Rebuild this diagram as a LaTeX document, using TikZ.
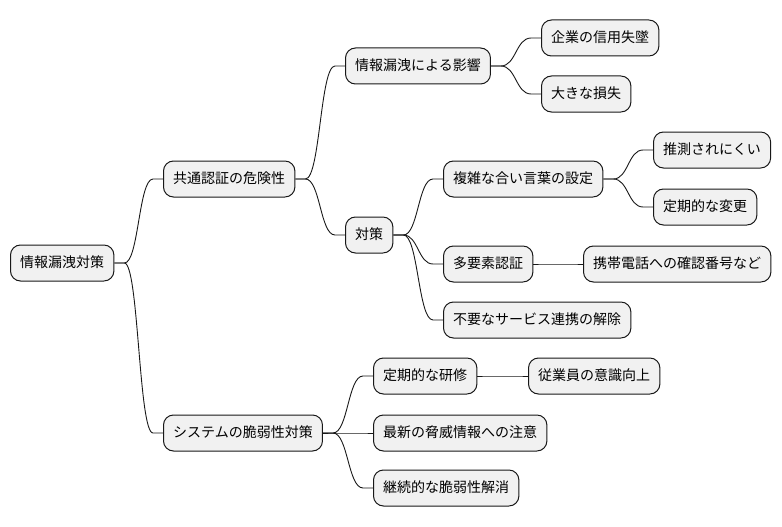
\documentclass[tikz,border=0pt]{standalone}
\usepackage{fontspec}
\newfontfamily\jp{Noto Sans CJK JP}
\usetikzlibrary{calc}
\definecolor{nodefill}{HTML}{F1F1F1}
\definecolor{edgecol}{HTML}{181818}
\tikzset{
  mm/.style={draw=edgecol, fill=nodefill, line width=1pt, rounded corners=10pt,
    anchor=west, minimum height=36pt, inner xsep=9.7pt, inner ysep=0pt,
    text height=11pt, text depth=1.5pt, font=\jp\fontsize{14}{16}\selectfont},
  branch/.style={to path={let \p1=(\tikztostart), \p2=(\tikztotarget) in
    -- (\x1+10pt,\y1) .. controls (\x1/2+\x2/2,\y1) and (\x1/2+\x2/2,\y2) .. (\x2-10pt,\y2) -- (\tikztotarget)}},
  conn/.style={draw=edgecol, line width=0.9pt}
}
\begin{document}
\begin{tikzpicture}[x=1pt,y=-1pt]
\useasboundingbox (0,0) rectangle (782,527);
\node[mm] (root) at (10,263) {情報漏洩対策};
\node[mm] (c1) at (163,179) {共通認証の危険性};
\node[mm] (c2) at (163,433) {システムの脆弱性対策};
\node[mm] (c11) at (345,66) {情報漏洩による影響};
\node[mm] (c12) at (345,235) {対策};
\node[mm] (c111) at (541,38) {企業の信用失墜};
\node[mm] (c112) at (541,94) {大きな損失};
\node[mm] (c121) at (443,179) {複雑な合い言葉の設定};
\node[mm] (c1211) at (653,150) {推測されにくい};
\node[mm] (c1212) at (653,207) {定期的な変更};
\node[mm] (c122) at (443,264) {多要素認証};
\node[mm] (c1221) at (583,264) {携帯電話への確認番号など};
\node[mm] (c123) at (443,320) {不要なサービス連携の解除};
\node[mm] (c21) at (373,376) {定期的な研修};
\node[mm] (c211) at (528,376) {従業員の意識向上};
\node[mm] (c22) at (373,433) {最新の脅威情報への注意};
\node[mm] (c23) at (373,488) {継続的な脆弱性解消};
\foreach \p/\c in {root/c1, root/c2, c1/c11, c1/c12, c11/c111, c11/c112,
  c12/c121, c12/c122, c12/c123, c121/c1211, c121/c1212, c122/c1221,
  c2/c21, c2/c22, c2/c23, c21/c211}
  \draw[conn] (\p.east) to[branch] (\c.west);
\end{tikzpicture}
\end{document}
